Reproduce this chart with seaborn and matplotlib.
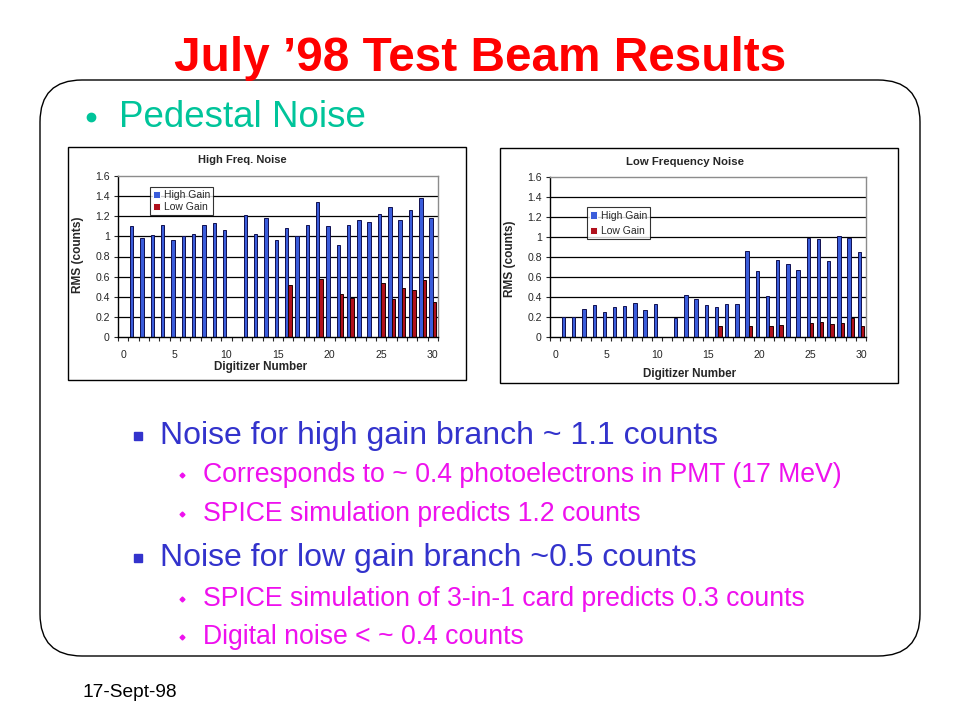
import numpy as np
import pandas as pd
import matplotlib
matplotlib.use("Agg")
import matplotlib.pyplot as plt
import seaborn as sns
from matplotlib.patches import FancyBboxPatch, Rectangle

nan = np.nan

# chart data
digitizers = list(range(31))
hf_high = [nan, 1.10, 0.98, 1.01, 1.11, 0.96, 1.00, 1.02, 1.11, 1.13, 1.06, nan,
           1.21, 1.02, 1.18, 0.96, 1.08, 1.00, 1.11, 1.34, 1.10, 0.91, 1.11, 1.16,
           1.14, 1.22, 1.29, 1.16, 1.26, 1.38, 1.18]
hf_low = [nan] * 16 + [0.52, nan, nan, 0.58, nan, 0.43, 0.39, nan, nan,
                       0.54, 0.38, 0.49, 0.47, 0.57, 0.35]
lf_high = [nan, 0.20, 0.20, 0.28, 0.32, 0.25, 0.30, 0.31, 0.34, 0.27, 0.33, nan,
           0.19, 0.42, 0.38, 0.32, 0.30, 0.33, 0.33, 0.86, 0.66, 0.41, 0.77, 0.73,
           0.67, 0.99, 0.98, 0.76, 1.01, 0.99, 0.85]
lf_low = [nan] * 16 + [0.11, nan, nan, 0.11, nan, 0.11, 0.12, nan, nan,
                       0.14, 0.15, 0.13, 0.14, 0.19, 0.11]
series_names = ["High Gain", "Low Gain"]
y_ticks = [0, 0.2, 0.4, 0.6, 0.8, 1.0, 1.2, 1.4, 1.6]
y_tick_labels = ["0", "0.2", "0.4", "0.6", "0.8", "1", "1.2", "1.4", "1.6"]
x_ticks = [0, 5, 10, 15, 20, 25, 30]

BLUE = "#3a5ddb"
RED = "#b0101c"

sns.set_style("white")
plt.rcParams["font.family"] = ["Liberation Sans", "DejaVu Sans"]

fig = plt.figure(figsize=(9.6, 7.2), dpi=100)

# slide background drawn in pixel coordinates
bg = fig.add_axes([0, 0, 1, 1])
bg.set_xlim(0, 960)
bg.set_ylim(720, 0)
bg.axis("off")

bg.add_patch(FancyBboxPatch((40, 80), 880, 576, boxstyle="round,pad=0,rounding_size=42",
                            fc="white", ec="black", lw=1.0))
bg.add_patch(Rectangle((68, 147), 398, 233, fc="white", ec="black", lw=1.0))
bg.add_patch(Rectangle((500, 148), 398, 235, fc="white", ec="black", lw=1.0))

bg.text(480, 71, "July \u201998 Test Beam Results", color="#ff0000", fontsize=34.4,
        fontweight="bold", ha="center", va="baseline")
bg.plot([91], [117], "o", color="#00c49a", ms=6)
bg.text(119, 127, "Pedestal Noise", color="#00c49a", fontsize=26.5, va="baseline")

navy = "#3333cc"
mag = "#ee11ee"
lines = [
    (160, 444, "Noise for high gain branch ~ 1.1 counts", navy, 23, "s", 138),
    (203, 482, "Corresponds to ~ 0.4 photoelectrons in PMT (17 MeV)", mag, 19.2, "D", 182),
    (203, 521, "SPICE simulation predicts 1.2 counts", mag, 19.2, "D", 182),
    (160, 566, "Noise for low gain branch ~0.5 counts", navy, 23, "s", 138),
    (203, 606, "SPICE simulation of 3-in-1 card predicts 0.3 counts", mag, 19.2, "D", 182),
    (203, 644, "Digital noise < ~ 0.4 counts", mag, 19.2, "D", 182),
]
for x, y, s, c, fs, mk, bx in lines:
    bg.text(x, y, s, color=c, fontsize=fs, va="baseline")
    if mk == "s":
        bg.plot([bx], [y - 8], "s", color=c, ms=5.5)
    else:
        bg.plot([bx], [y - 7], "D", color=c, ms=2.5)

bg.text(83, 697, "17-Sept-98", color="black", fontsize=13.8, va="baseline")

bg.text(242, 160, "High Freq. Noise", fontsize=8, fontweight="bold", ha="center", va="center")
bg.text(685, 162, "Low Frequency Noise", fontsize=8.2, fontweight="bold", ha="center", va="center")


def px_axes(x0, y0, x1, y1):
    return fig.add_axes([x0 / 960, (720 - y1) / 720, (x1 - x0) / 960, (y1 - y0) / 720])


def draw_chart(ax, high, low, legend_xy, label_spacing, xlab_xy, ylab_xy):
    df = pd.DataFrame({"digitizer": digitizers, series_names[0]: high, series_names[1]: low})
    long = df.melt(id_vars="digitizer", var_name="gain", value_name="rms").dropna()
    sns.barplot(data=long, x="digitizer", y="rms", hue="gain", order=digitizers,
                hue_order=series_names, palette=[BLUE, RED], width=0.66,
                errorbar=None, linewidth=0.7, saturation=1, ax=ax)
    for cont, ec in zip(ax.containers, ["#101050", "#200000"]):
        for b in cont:
            b.set_edgecolor(ec)
    ax.set_xlim(-0.5, 30.5)
    ax.set_ylim(0, 1.6)
    for y in y_ticks[1:-1]:
        ax.axhline(y, color="black", lw=0.9, zorder=0.5)
    ax.set_axisbelow(True)
    ax.set_yticks(y_ticks)
    ax.set_yticklabels(y_tick_labels)
    ax.set_xticks(x_ticks)
    ax.set_xticklabels([str(t) for t in x_ticks])
    ax.set_xticks(np.arange(-0.5, 31, 1), minor=True)
    ax.tick_params(axis="y", direction="out", length=3, width=0.8, labelsize=7.6, pad=3, left=True)
    ax.tick_params(axis="x", which="major", length=0, labelsize=7.6, pad=9)
    ax.tick_params(axis="x", which="minor", direction="out", length=3, width=0.8, bottom=True)
    for side in ["top", "right"]:
        ax.spines[side].set_color("#8c8c8c")
        ax.spines[side].set_linewidth(1.0)
    for side in ["left", "bottom"]:
        ax.spines[side].set_color("black")
        ax.spines[side].set_linewidth(1.0)
    ax.set_xlabel("Digitizer Number", fontsize=8.4, fontweight="bold")
    ax.set_ylabel("RMS (counts)", fontsize=8.6, fontweight="bold")
    ax.xaxis.set_label_coords(*xlab_xy)
    ax.xaxis.label.set_va("center")
    ax.yaxis.set_label_coords(*ylab_xy)
    ax.yaxis.label.set_va("center")
    handles, labels = ax.get_legend_handles_labels()
    leg = ax.legend(handles, labels, loc="upper left", bbox_to_anchor=legend_xy,
                    borderaxespad=0, fontsize=7.5, frameon=True, fancybox=False,
                    handlelength=0.7, handleheight=0.7, handletextpad=0.3,
                    borderpad=0.3, labelspacing=label_spacing)
    leg.get_frame().set_edgecolor("black")
    leg.get_frame().set_linewidth(0.8)


ax1 = px_axes(118, 176, 438, 337)
draw_chart(ax1, hf_high, hf_low, (0.1, 0.93), 0.15, (0.447, -0.186), (-0.125, 0.51))
ax2 = px_axes(550, 177, 866, 337)
draw_chart(ax2, lf_high, lf_low, (0.117, 0.81), 0.55, (0.443, -0.231), (-0.127, 0.49))

fig.savefig("out.png", dpi=100)
